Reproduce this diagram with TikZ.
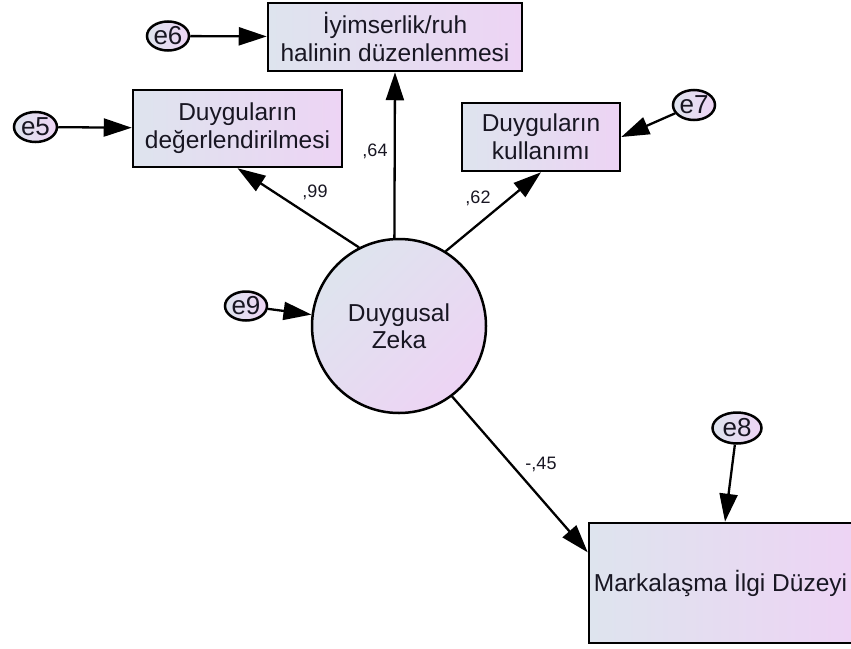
\documentclass[tikz,border=0pt]{standalone}
\usepackage{fontspec}
\setmainfont{Liberation Sans}
\usetikzlibrary{arrows.meta,shapes.geometric,calc}

\definecolor{shadeL}{RGB}{222,228,238}
\definecolor{shadeR}{RGB}{237,212,244}
\definecolor{inkdark}{RGB}{24,22,34}

\tikzset{
  every node/.style={text=inkdark},
  varbox/.style={draw=black, line width=2.5pt, rectangle, inner sep=0pt,
    left color=shadeL, right color=shadeR, align=center,
    font=\fontsize{24.5}{28}\selectfont},
  latent/.style={draw=black, line width=2.5pt, circle, inner sep=0pt,
    minimum size=174pt, top color=shadeL, bottom color=shadeR,
    shading angle=45, align=center, font=\fontsize{24.5}{27}\selectfont},
  errell/.style={draw=black, line width=2.5pt, ellipse, inner sep=0pt,
    left color=shadeL, right color=shadeR,
    label={[font=\fontsize{26}{26}\selectfont, text=inkdark]center:#1}},
  coef/.style={font=\fontsize{18}{18}\selectfont, inner sep=0pt},
  arr/.style={line width=2.3pt, draw=black,
    -{Triangle[length=28pt,width=18pt]}}
}

\begin{document}
\begin{tikzpicture}[x=1pt,y=-1pt]
  \useasboundingbox (0,0) rectangle (851,648);
  \clip (0,0) rectangle (851,648);

  % observed variables
  \node[varbox, minimum width=254pt, minimum height=68pt] (iyi) at (395,37)
    {İyimserlik/ruh\\halinin düzenlenmesi};
  \node[varbox, minimum width=209pt, minimum height=77pt] (deg) at (237.5,128.5)
    {Duyguların\\değerlendirilmesi};
  \node[varbox, minimum width=158pt, minimum height=68pt] (kul) at (541,137)
    {Duyguların\\kullanımı};
  \node[varbox, minimum width=263pt, minimum height=120pt] (mark) at (720.5,583)
    {Markalaşma İlgi Düzeyi};

  % latent variable
  \node[latent] (dz) at (399,326) {Duygusal\\Zeka};

  % error terms
  \node[errell={e5}, minimum width=43pt, minimum height=30pt] (e5) at (35.5,127) {};
  \node[errell={e6}, minimum width=42pt, minimum height=29pt] (e6) at (168,36) {};
  \node[errell={e7}, minimum width=42pt, minimum height=30pt] (e7) at (694,105) {};
  \node[errell={e8}, minimum width=49pt, minimum height=31pt] (e8) at (737,428) {};
  \node[errell={e9}, minimum width=42pt, minimum height=29pt] (e9) at (246,306) {};

  % error paths
  \draw[arr] (e5) -- (deg);
  \draw[arr] (e6) -- (iyi);
  \draw[arr] (e7) -- (kul.east);
  \draw[arr] (e8) -- ([xshift=4.5pt]mark.north);
  \draw[arr] (e9) -- (dz);

  % structural paths
  \draw[arr] (dz.117) -- (deg.south);
  \draw[arr] (dz.93) -- (iyi.south);
  \draw[arr] (dz.58) -- (kul.south);
  \coordinate (markin) at ($(mark.north west)!0.25!(mark.south west)$);
  \draw[arr] (dz.-53) -- (markin);

  % standardized coefficients
  \node[coef] (c99) at (315,192) {,99};
  \node[coef] (c64) at (375,151) {,64};
  \node[coef] (c62) at (478,198) {,62};
  \node[coef] (c45) at (541,464) {-,45};
\end{tikzpicture}
\end{document}
